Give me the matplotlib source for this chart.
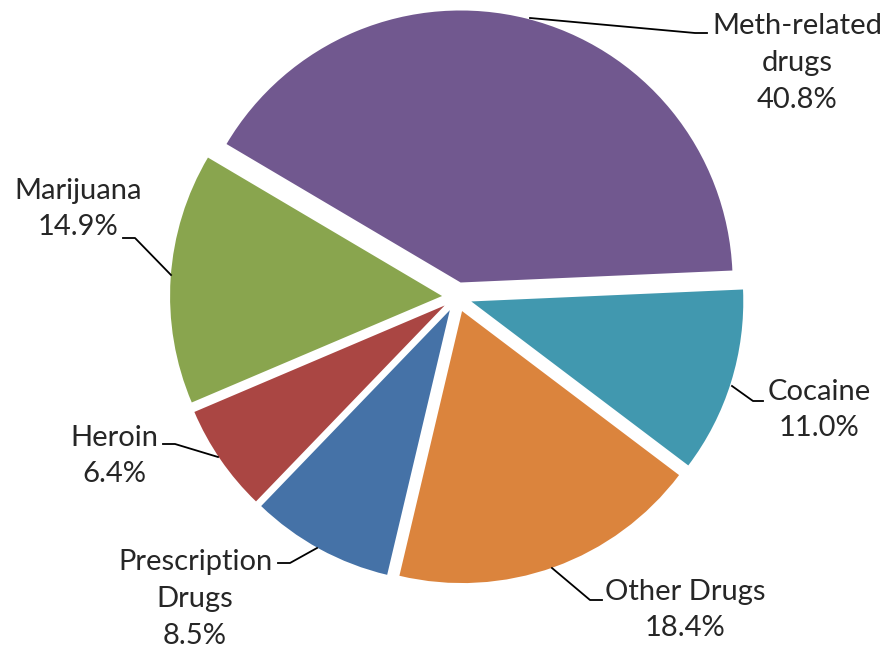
import matplotlib.pyplot as plt

# Drug share data
labels = ['Meth-related\ndrugs', 'Cocaine', 'Other Drugs', 'Prescription\nDrugs', 'Heroin', 'Marijuana']
shares = [40.8, 11.0, 18.4, 8.5, 6.4, 14.9]
colors = ['#71588F', '#4198AF', '#DB843D', '#4572A7', '#AA4643', '#89A54E']

W, H = 888, 651
cx, cy, R = 457, 297, 272  # pie centre / radius in pixels

def px(x, y):
    # pixel (from top-left) -> data units of the pie
    return (x - cx) / R, (cy - y) / R

plt.rcParams['font.family'] = ['Lato', 'DejaVu Sans']

fig = plt.figure(figsize=(W / 100, H / 100), dpi=100)
ax = fig.add_axes([0, 0, 1, 1])

ax.pie(shares, colors=colors, startangle=149.4, counterclock=False,
       explode=[0.055] * len(shares), radius=1,
       wedgeprops=dict(linewidth=0))

# label centres (pixels) and leader lines
label_pos = [(797, 63), (819, 410), (685, 610), (195, 599), (114, 456), (78, 209)]
leaders = [
    [(530, 18), (695, 33), (707, 33)],
    [(732, 386), (753, 401), (763, 401)],
    [(552, 568), (590, 600), (602, 600)],
    [(317, 548), (290, 563), (278, 563)],
    [(218, 457), (175, 444), (163, 444)],
    [(171, 275), (135, 238), (123, 238)],
]

for lab, val, pos, pts in zip(labels, shares, label_pos, leaders):
    x, y = px(*pos)
    ax.text(x, y, f'{lab}\n{val:.1f}%', ha='center', va='center',
            fontsize=21, color='#262626', linespacing=1.52,
            multialignment='center')
    xs, ys = zip(*[px(a, b) for a, b in pts])
    ax.plot(xs, ys, color='black', lw=1.3)

ax.set_xlim(-cx / R, (W - cx) / R)
ax.set_ylim(-(H - cy) / R, cy / R)
ax.set_aspect('equal')
ax.axis('off')

fig.savefig('out.png', dpi=100)
